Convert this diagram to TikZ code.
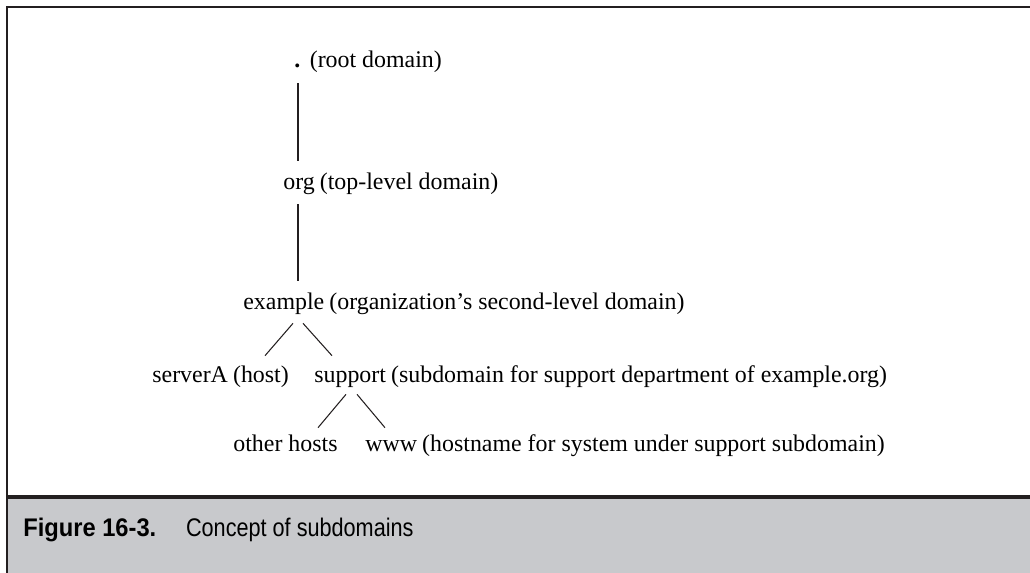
\documentclass[tikz,border=0pt]{standalone}
\usepackage{fontspec}
\setmainfont{Liberation Serif}
\newfontfamily\capfont[FakeStretch=0.85,BoldFeatures={FakeStretch=0.93}]{Liberation Sans}
\usetikzlibrary{positioning,calc}
\definecolor{capgray}{RGB}{200,201,204}
\definecolor{rule}{RGB}{35,31,32}
\tikzset{
  nm/.style={inner sep=0pt,anchor=base west,text height=8pt,text depth=2.5pt,font=\fontsize{13.6}{16}\selectfont},
  ds/.style={nm,anchor=base west},
  ln/.style={line width=0.6pt,rule},
  frm/.style={line width=1.2pt,rule},
  sepl/.style={line width=1.8pt,rule},
  figlab/.style={inner sep=0pt,anchor=base west,font=\capfont\bfseries\fontsize{14.5}{17}\selectfont},
  figtxt/.style={inner sep=0pt,font=\capfont\fontsize{14.5}{17}\selectfont},
}
\begin{document}
\begin{tikzpicture}[x=0.02cm,y=-0.02cm]
  \useasboundingbox (0,0) rectangle (1030,573);
  \fill[capgray] (7,498) rectangle (1030,573);
  \draw[frm] (1030,7) -- (7,7) -- (7,573);
  \draw[sepl] (7,497) -- (1030,497);

  \node[nm] (root) at (294,68) {\textbf{.}};
  \node[ds,base right=0.5em of root] (rootd) {(root domain)};
  \node[nm] (org) at (283,190) {org};
  \node[ds,base right=0.25em of org] (orgd) {(top-level domain)};
  \node[nm] (ex) at (243,310) {example};
  \node[ds,base right=0.25em of ex] (exd) {(organization's second-level domain)};
  \node[nm] (srv) at (152,383) {serverA};
  \node[ds,base right=0.25em of srv] (srvd) {(host)};
  \node[nm] (sup) at (314,383) {support};
  \node[ds,base right=0.25em of sup] (supd) {(subdomain for support department of example.org)};
  \node[nm] (oth) at (233,452) {other hosts};
  \node[nm] (www) at (365,452) {www};
  \node[ds,base right=0.25em of www] (wwwd) {(hostname for system under support subdomain)};

  \draw[ln] ($(root.south west)+(4,10.6)$) -- ($(org.north west)+(15,-14.9)$);
  \draw[ln] ($(org.south west)+(15,9.6)$) -- ($(ex.north west)+(55,-14.9)$);
  \draw[ln] ($(ex.south west)+(50,8.6)$) -- ($(srv.north west)+(113,-12.9)$);
  \draw[ln] ($(ex.south west)+(60,8.6)$) -- ($(sup.north west)+(18,-12.9)$);
  \draw[ln] ($(sup.south west)+(32,6.6)$) -- ($(oth.north west)+(85,-9.9)$);
  \draw[ln] ($(sup.south west)+(43,6.6)$) -- ($(www.north west)+(20,-9.9)$);

  \node[figlab] (fig) at (23,536) {Figure 16-3.};
  \node[figtxt,base right=29*0.02cm of fig] (figt) {Concept of subdomains};
\end{tikzpicture}
\end{document}
